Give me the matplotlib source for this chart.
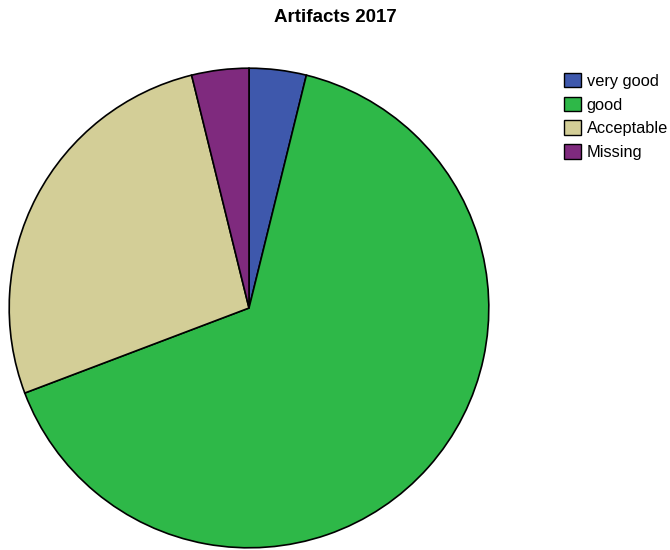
import matplotlib.pyplot as plt
from matplotlib.patches import Rectangle

plt.rcParams['font.family'] = ['Liberation Sans', 'DejaVu Sans']

# Artifacts 2017 ratings (counts)
labels = ["very good", "good", "Acceptable", "Missing"]
counts = [1, 17, 7, 1]
colors = ["#3e58ac", "#2eb848", "#d3ce97", "#7f2a7e"]

fig = plt.figure(figsize=(6.7, 5.5), dpi=100)

ax = fig.add_axes([8 / 670, 1 / 550, 482 / 670, 482 / 550])
ax.pie(counts, colors=colors, startangle=90, counterclock=False,
       radius=1, wedgeprops=dict(edgecolor="black", linewidth=1.2))
ax.set_xlim(-1.005, 1.005)
ax.set_ylim(-1.005, 1.005)
ax.set_aspect("equal")
ax.axis("off")

fig.text(335 / 670, 1 - 18 / 550, "Artifacts 2017", ha="center", va="center",
         fontsize=13.5, fontweight="bold")

handles = [Rectangle((0, 0), 1, 1, facecolor=c, edgecolor="black", linewidth=1)
           for c in colors]
fig.legend(handles, labels, loc="upper left",
           bbox_to_anchor=(549 / 670, 1 - 58 / 550), frameon=False,
           fontsize=11.8, handlelength=1.05, handleheight=1.0,
           handletextpad=0.35, labelspacing=0.48)

fig.savefig("out.png", dpi=100)
